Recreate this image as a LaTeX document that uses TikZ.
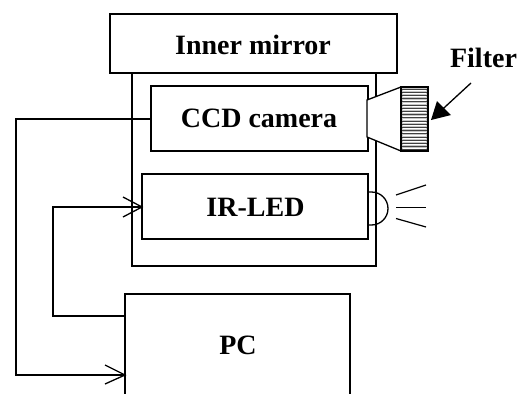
\documentclass[tikz,border=0pt]{standalone}
\usepackage{fontspec}
\setmainfont{Liberation Serif}
\begin{document}
\begin{tikzpicture}[x=1pt,y=-1pt,line width=1.3pt,
  box/.style={draw=black,fill=white,inner sep=0pt,outer sep=0pt,anchor=north west},
  lab/.style={font=\bfseries\fontsize{28}{30}\selectfont,inner sep=0pt,anchor=base},
  ray/.style={line width=1.2pt}]
\useasboundingbox (0,0) rectangle (523,394);
\node[box,minimum width=244pt,minimum height=193pt] (outer) at (132,73) {};
\node[box,minimum width=287pt,minimum height=59pt] (mirror) at (110,14) {};
\node[lab] at (253,54) {Inner mirror};
\node[box,minimum width=217pt,minimum height=65pt] (ccd) at (151,86) {};
\node[lab] at (259,127) {CCD camera};
\node[box,minimum width=226pt,minimum height=65pt] (led) at (142,174) {};
\node[lab] at (255.5,216) {IR-LED};
\node[box,minimum width=225pt,minimum height=120pt] (pc) at (125,294) {};
\node[lab] at (238,354) {PC};
\node[lab] at (483.5,67) {Filter};
% lens
\draw[fill=white] (367,100) -- (401,87) -- (401,151) -- (367,137) -- cycle;
\fill[gray!45] (401,87) rectangle (428,151);
\foreach \y in {89,92.2,...,150} \draw[black!75,line width=0.7pt] (402,\y) -- (427,\y);
\foreach \y in {90.5,93.7,...,150} \draw[white,line width=0.9pt] (403,\y) -- (426,\y);
\draw (401,87) rectangle (428,151);
% led
\draw (368,192) -- (371.5,192) arc[start angle=-90,end angle=90,radius=16.5] -- (368,225);
\coordinate (r1) at (396,195); \coordinate (r1e) at (426,185);
\coordinate (r2) at (396,207.5); \coordinate (r2e) at (426,207.5);
\coordinate (r3) at (396,218.5); \coordinate (r3e) at (426,227);
\draw[ray] (r1) -- (r1e); \draw[ray] (r2) -- (r2e); \draw[ray] (r3) -- (r3e);
% arrow
\coordinate (fa) at (471,83); \coordinate (fb) at (433,118);
\draw (fa) -- (fb);
\fill (431,120) -- (437,101) -- (451,115) -- cycle;
% wires
\draw (ccd.west |- 0,119) -- (16,119) -- (16,375) -- (pc.west |- 0,375);
\draw (pc.west |- 0,316) -- (53,316) -- (53,207) -- (led.west |- 0,207);
\draw (123,197) -- (142,207) -- (123,217);
\draw (105,365) -- (125,375) -- (105,384);
\end{tikzpicture}
\end{document}
